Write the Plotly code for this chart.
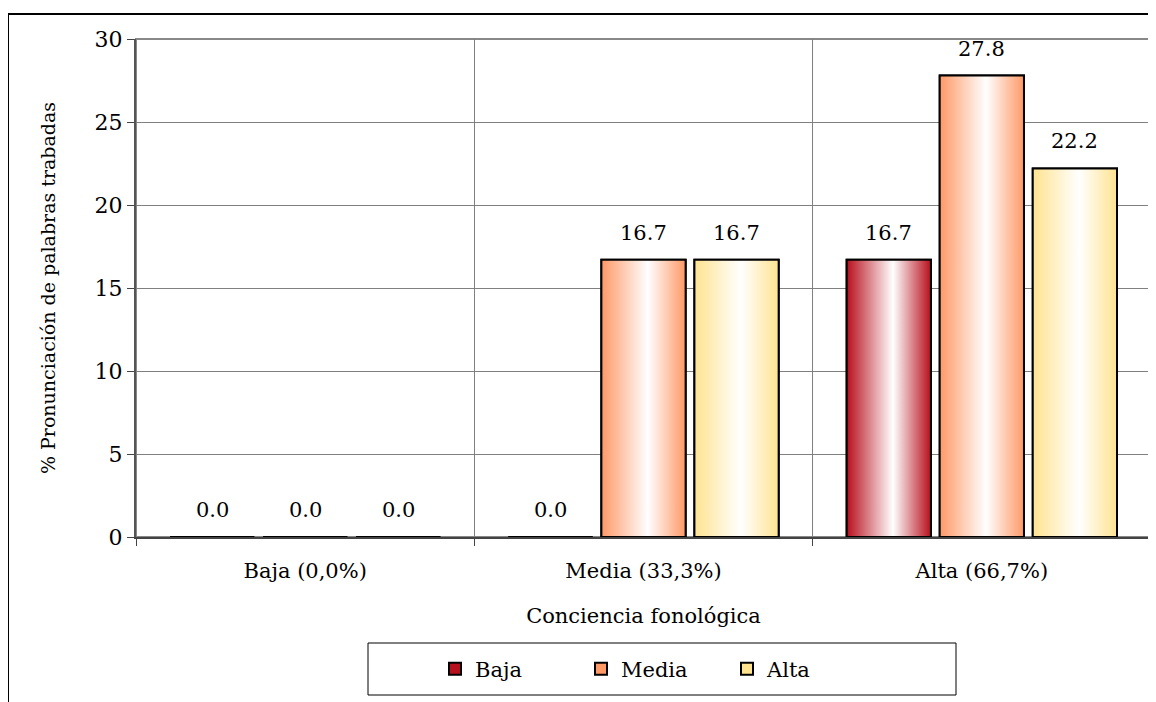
import plotly.graph_objects as go

# ---- data ----
categories = ["Baja (0,0%)", "Media (33,3%)", "Alta (66,7%)"]
series_names = ["Baja", "Media", "Alta"]
baja_vals = [0.0, 0.0, 16.7]
media_vals = [0.0, 16.7, 27.8]
alta_vals = [0.0, 16.7, 22.2]
y_ticks = [0, 5, 10, 15, 20, 25, 30]

series_vals = [baja_vals, media_vals, alta_vals]
edge_colors = ["#B80F1C", "#FF9966", "#FFE38F"]

FONT = "DejaVu Serif"
FS = 21
slot = 0.275
bar_w = 0.249

fig = go.Figure()
xs = list(range(len(categories)))

for si, (name, vals, col) in enumerate(zip(series_names, series_vals, edge_colors)):
    off = (si - 1) * slot - bar_w / 2
    fig.add_trace(go.Bar(
        x=xs, y=vals, name=name, width=bar_w, offset=off,
        marker=dict(color=col, line=dict(color="black", width=2)),
        hoverinfo="skip",
    ))
    # gradient overlay for each bar (same geometry as the bar)
    for ci, v in enumerate(vals):
        x0 = ci + off
        x1 = x0 + bar_w
        fig.add_trace(go.Scatter(
            x=[x0, x1, x1, x0, x0], y=[0, 0, v, v, 0],
            mode="lines", fill="toself",
            line=dict(color="black", width=2),
            fillgradient=dict(type="horizontal",
                              colorscale=[[0, col], [0.55, "#FFFFFF"], [1, col]]),
            showlegend=False, hoverinfo="skip",
        ))
    for ci, v in enumerate(vals):
        fig.add_annotation(x=ci + off + bar_w / 2, y=v, text=f"{v:.1f}",
                           showarrow=False, yanchor="bottom", yshift=13,
                           font=dict(family=FONT, size=FS, color="black"))

PW, PH = 1015, 498
# outer frame (paper coords relative to plot area)
fig.add_shape(type="rect", xref="paper", yref="paper",
              x0=-128 / PW, x1=1.05, y0=-0.5, y1=(537 - 14) / PH,
              line=dict(color="black", width=2), layer="below")
# legend box
fig.add_shape(type="rect", xref="paper", yref="paper",
              x0=(368 - 136) / PW, x1=(956 - 136) / PW,
              y0=(537 - 695) / PH, y1=(537 - 643) / PH,
              line=dict(color="black", width=1), layer="below")
# plot border
fig.add_shape(type="rect", xref="paper", yref="paper", x0=0, x1=1, y0=0, y1=1,
              line=dict(color="#888888", width=2), layer="below")

fig.update_layout(
    width=1156, height=702,
    margin=dict(l=128, r=13, t=31, b=173),
    paper_bgcolor="white", plot_bgcolor="white",
    font=dict(family=FONT, size=FS, color="black"),
    showlegend=True,
    legend=dict(orientation="h", x=(435 - 136) / PW, xanchor="left",
                y=(537 - 669) / PH, yanchor="middle",
                font=dict(family=FONT, size=FS), entrywidth=101,
                entrywidthmode="pixels", itemwidth=30, bgcolor="rgba(0,0,0,0)"),
    xaxis=dict(range=[-0.5, 2.5], tickvals=xs, ticktext=categories,
               ticks="", showgrid=False, zeroline=False, ticklabelstandoff=14,
               showline=True, linecolor="#444444", linewidth=2,
               minor=dict(tickvals=[-0.5, 0.5, 1.5, 2.5], ticks="outside",
                          ticklen=7, tickcolor="#444444", showgrid=True,
                          gridcolor="#808080", gridwidth=1),
               title=dict(text="Conciencia fonológica", standoff=26,
                          font=dict(family=FONT, size=FS)),
               tickfont=dict(family=FONT, size=FS)),
    yaxis=dict(range=[0, 30], tickvals=y_ticks, ticks="outside", ticklen=7,
               tickcolor="#444444", showgrid=True, gridcolor="#808080",
               gridwidth=1, zeroline=False, showline=True,
               linecolor="#555555", linewidth=2,
               title=dict(text="% Pronunciación de palabras trabadas",
                          standoff=34, font=dict(family=FONT, size=19)),
               tickfont=dict(family=FONT, size=22)),
)

fig.write_html("out.html")
